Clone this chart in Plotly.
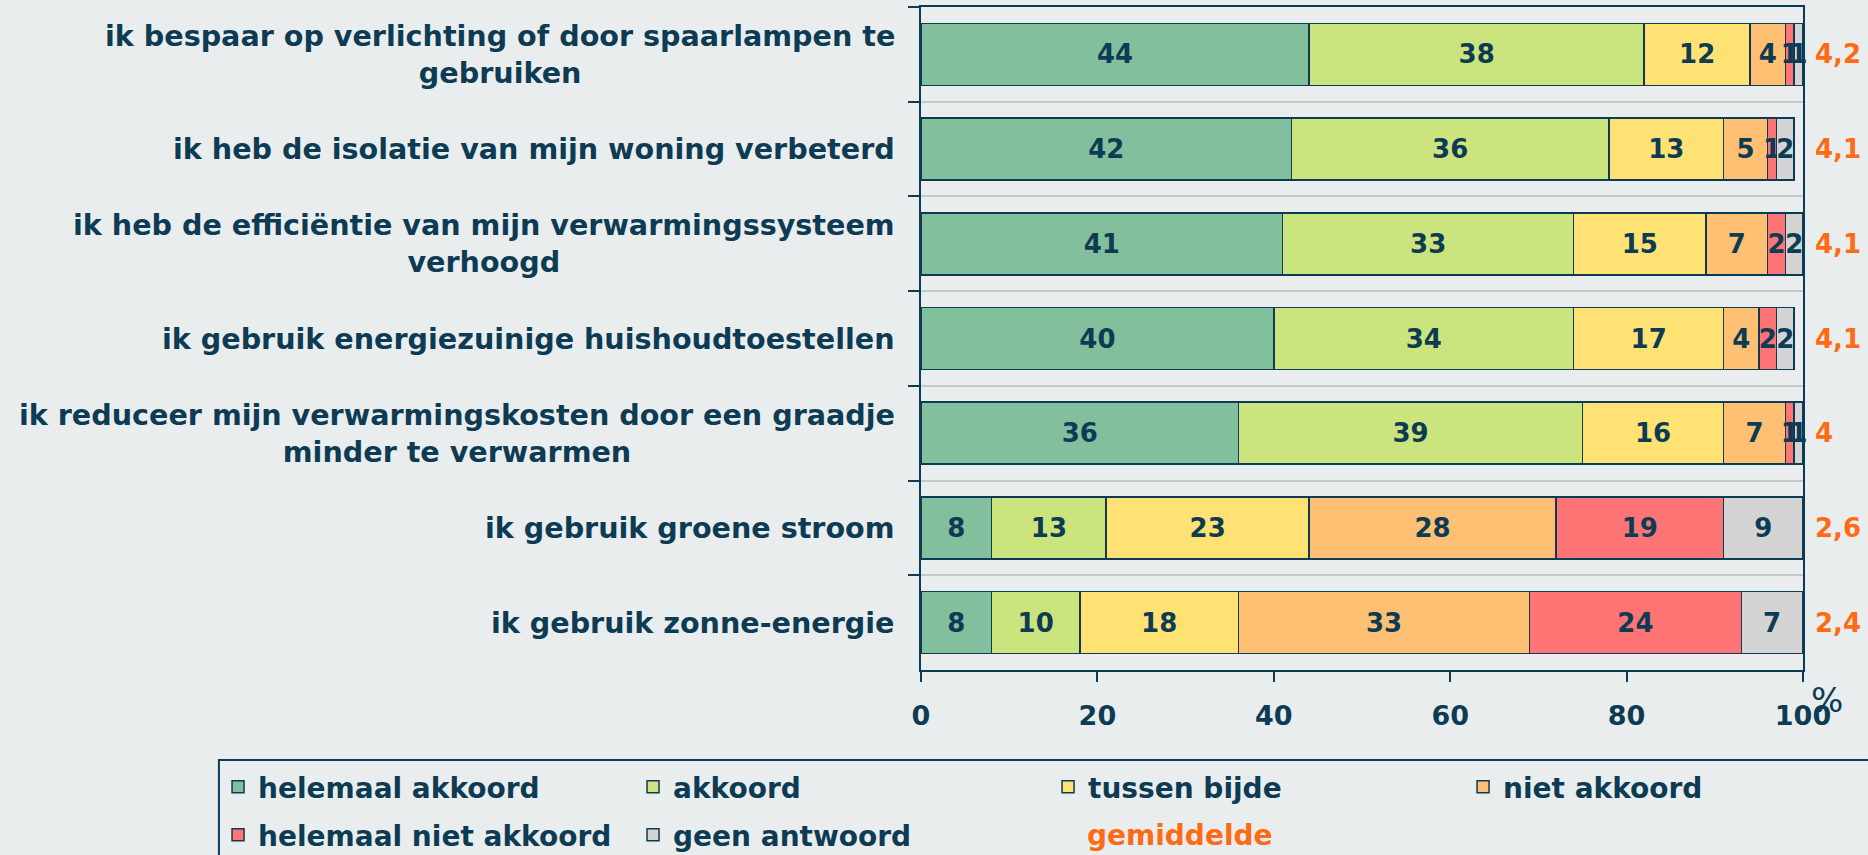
import plotly.graph_objects as go

# Survey statements (top to bottom)
statements = [
    "ik bespaar op verlichting of door spaarlampen te<br>gebruiken",
    "ik heb de isolatie van mijn woning verbeterd",
    "ik heb de efficiëntie van mijn verwarmingssysteem<br>verhoogd",
    "ik gebruik energiezuinige huishoudtoestellen",
    "ik reduceer mijn verwarmingskosten door een graadje<br>minder te verwarmen",
    "ik gebruik groene stroom",
    "ik gebruik zonne-energie",
]

# Answer shares in % per statement
helemaal_akkoord = [44, 42, 41, 40, 36, 8, 8]
akkoord = [38, 36, 33, 34, 39, 13, 10]
tussen_bijde = [12, 13, 15, 17, 16, 23, 18]
niet_akkoord = [4, 5, 7, 4, 7, 28, 33]
helemaal_niet_akkoord = [1, 1, 2, 2, 1, 19, 24]
geen_antwoord = [1, 2, 2, 2, 1, 9, 7]

# Mean score per statement
gemiddelde = [4.2, 4.1, 4.1, 4.1, 4.0, 2.6, 2.4]

x_ticks = [0, 20, 40, 60, 80, 100]

NAVY = "#0d3b54"
ORANGE = "#ff6a14"
BG = "#e9eded"
FONT = "DejaVu Sans"

# (name, values, fill colour, legend row)
series = [
    ("helemaal akkoord", helemaal_akkoord, "#82bf9c", "legend"),
    ("akkoord", akkoord, "#cbe47e", "legend"),
    ("tussen bijde", tussen_bijde, "#ffe174", "legend"),
    ("niet akkoord", niet_akkoord, "#ffc074", "legend"),
    ("helemaal niet akkoord", helemaal_niet_akkoord, "#ff7474", "legend2"),
    ("geen antwoord", geen_antwoord, "#d4d4d4", "legend2"),
]

fig = go.Figure()
for name, values, color, leg in series:
    fig.add_trace(go.Bar(
        y=statements,
        x=values,
        name=name,
        legend=leg,
        orientation="h",
        marker=dict(color=color, line=dict(color=NAVY, width=1.5)),
        text=values,
        texttemplate="%{x}",
        textposition="inside",
        insidetextanchor="middle",
        textangle=0,
        constraintext="none",
        cliponaxis=False,
        textfont=dict(family=FONT, size=26, color=NAVY, weight="bold"),
        hoverinfo="skip",
    ))

annotations = []
# Category labels, centred per line and right-aligned against the axis
for s in statements:
    annotations.append(dict(
        x=0, xref="paper", y=s, yref="y",
        text=s, showarrow=False, xanchor="right", yanchor="middle",
        align="center", xshift=-24,
        font=dict(family=FONT, size=28.6, color=NAVY, weight="bold"),
    ))
# Mean scores to the right of each bar
for s, g in zip(statements, gemiddelde):
    annotations.append(dict(
        x=100, xref="x", y=s, yref="y",
        text=f"{g:g}".replace(".", ","), showarrow=False,
        xanchor="left", yanchor="middle", xshift=10,
        font=dict(family=FONT, size=26, color=ORANGE, weight="bold"),
    ))
# Unit label at the end of the x axis
annotations.append(dict(
    x=1.027, xref="paper", y=-0.045, yref="paper",
    text="%", showarrow=False, xanchor="center", yanchor="middle",
    font=dict(family=FONT, size=34, color=NAVY),
))
# Legend caption for the mean score
annotations.append(dict(
    x=0.186, xref="paper", y=-0.249, yref="paper",
    text="gemiddelde", showarrow=False, xanchor="left", yanchor="middle",
    font=dict(family=FONT, size=28, color=ORANGE, weight="bold"),
))

legend_common = dict(
    orientation="h", xanchor="left", yanchor="middle",
    traceorder="normal", entrywidth=370, entrywidthmode="pixels",
    bgcolor="rgba(0,0,0,0)", borderwidth=0,
    font=dict(family=FONT, size=28, color=NAVY, weight="bold"),
)

fig.update_layout(
    width=1868, height=855, autosize=False,
    margin=dict(l=921, r=65, t=7, b=185, autoexpand=False),
    paper_bgcolor=BG, plot_bgcolor=BG,
    barmode="stack", bargap=0.345,
    font=dict(family=FONT, color=NAVY),
    xaxis=dict(
        range=[0, 100], tickvals=x_ticks, ticks="outside", ticklen=10,
        tickwidth=2, tickcolor=NAVY, showline=True, linecolor=NAVY,
        linewidth=2, mirror=True, showgrid=False, zeroline=False,
        ticklabelstandoff=11,
        tickfont=dict(family=FONT, size=27, color=NAVY, weight="bold"),
    ),
    yaxis=dict(
        type="category", autorange="reversed", tickson="boundaries",
        ticks="outside", ticklen=11, tickwidth=2, tickcolor=NAVY,
        showline=True, linecolor=NAVY, linewidth=2, mirror=True,
        showgrid=True, gridcolor="#c6c8ca", gridwidth=2,
        showticklabels=False, zeroline=False,
    ),
    legend=dict(x=-0.797, y=-0.1765, **legend_common),
    legend2=dict(x=-0.797, y=-0.2489, **legend_common),
    # frame around the legend block
    shapes=[dict(
        type="rect", xref="paper", yref="paper",
        x0=-0.796, x1=1.2, y0=-0.1357, y1=-0.4,
        line=dict(color=NAVY, width=2), fillcolor="rgba(0,0,0,0)",
        layer="above",
    )],
    annotations=annotations,
    showlegend=True,
)

fig.write_html("out.html")
